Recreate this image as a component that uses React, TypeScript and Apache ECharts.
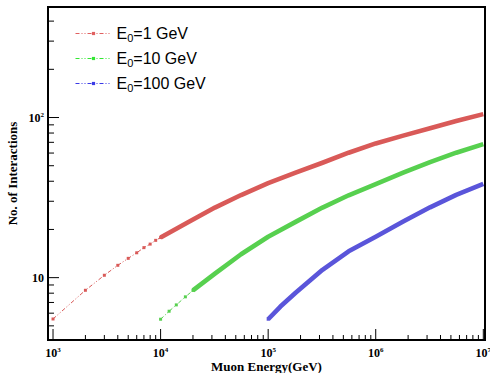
import React, { useEffect, useRef } from "react";
import * as echarts from "echarts";

// Muon energy (GeV) and number of interactions
const redSparseE = [1000, 2000, 3000, 4000, 5000, 6000, 7000, 8000, 9000, 10000];
const redSparseN = [5.52, 8.34, 10.35, 11.94, 13.2, 14.3, 15.4, 16.2, 17.1, 17.8];
const redDenseE = [10000, 18000, 32000, 56000, 100000, 180000, 320000, 560000, 1e6, 1.8e6, 3.2e6, 5.6e6, 1e7];
const redDenseN = [17.8, 22.2, 27.4, 32.8, 38.9, 45.3, 52.2, 60.3, 68.9, 77.1, 85.7, 95.1, 105];

const greenSparseE = [10000, 12000, 14000, 17000, 20000];
const greenSparseN = [5.5, 6.17, 6.76, 7.59, 8.32];
const greenDenseE = [20000, 32000, 56000, 100000, 180000, 320000, 560000, 1e6, 1.8e6, 3.2e6, 5.6e6, 1e7];
const greenDenseN = [8.32, 10.6, 14.0, 18.0, 22.3, 27.4, 32.7, 38.4, 45.2, 52.7, 60.3, 68.2];

const blueSparseE = [100000, 130000];
const blueSparseN = [5.5, 6.6];
const blueDenseE = [100000, 130000, 180000, 320000, 560000, 1e6, 1.8e6, 3.2e6, 5.6e6, 1e7];
const blueDenseN = [5.5, 6.6, 8.04, 11.2, 14.6, 18.0, 22.4, 27.5, 32.9, 38.5];

const seriesNames = ["E0=1 GeV", "E0=10 GeV", "E0=100 GeV"];

// tick positions
const xMajorTicks = [1e3, 1e4, 1e5, 1e6, 1e7];
const xMinorTicks = [
  2e3, 3e3, 4e3, 5e3, 6e3, 7e3, 8e3, 9e3,
  2e4, 3e4, 4e4, 5e4, 6e4, 7e4, 8e4, 9e4,
  2e5, 3e5, 4e5, 5e5, 6e5, 7e5, 8e5, 9e5,
  2e6, 3e6, 4e6, 5e6, 6e6, 7e6, 8e6, 9e6,
];
const yMajorTicks = [10, 100];
const yMinorTicks = [5, 6, 7, 8, 9, 20, 30, 40, 50, 60, 70, 80, 90, 200, 300, 400];

const RED = "#d95a58";
const GREEN = "#57d04f";
const BLUE = "#5a55da";
const LEG_COLORS = ["#e06060", "#33e633", "#3a3ae6"];
const SERIF = "Liberation Serif";
const DASH = [4, 2, 1, 2, 1, 2];

function zip(a: number[], b: number[]) {
  return a.map((v, i) => [v, b[i]]);
}

function powLabel(v: number) {
  const l = Math.log10(v);
  const e = Math.round(l);
  if (Math.abs(l - e) > 1e-6) return "";
  if (e === 1) return "{b|10}";
  return "{b|10}{s|" + e + "}";
}

const labelRich = {
  b: { fontFamily: SERIF, fontWeight: "bold", fontSize: 12, color: "#000", lineHeight: 13, verticalAlign: "bottom" },
  s: { fontFamily: SERIF, fontWeight: "bold", fontSize: 7, color: "#000", lineHeight: 7, verticalAlign: "top" },
};

export default function App() {
  const ref = useRef<HTMLDivElement>(null);
  useEffect(() => {
    if (!ref.current) return;
    const chart = echarts.init(ref.current, undefined, { renderer: "svg" });
    const sparse = (name: string, color: string, e: number[], n: number[]) => ({
      name,
      type: "line",
      data: zip(e, n),
      symbol: "rect",
      symbolSize: 3,
      showSymbol: true,
      itemStyle: { color },
      lineStyle: { color, width: 1, type: DASH },
      z: 3,
    });
    const dense = (name: string, color: string, e: number[], n: number[]) => ({
      name,
      type: "line",
      data: zip(e, n),
      showSymbol: false,
      symbol: "none",
      lineStyle: { color, width: 4.6, cap: "butt", join: "round" },
      itemStyle: { color },
      z: 4,
    });
    const xTickData = [
      ...xMajorTicks.map((v) => [v, 10, 1]),
      ...xMinorTicks.map((v) => [v, 10, 0]),
    ];
    const yTickData = [
      ...yMajorTicks.map((v) => [1e4, v, 1]),
      ...yMinorTicks.map((v) => [1e4, v, 0]),
    ];
    chart.setOption({
      animation: false,
      backgroundColor: "#fff",
      grid: {
        left: 48,
        right: 5,
        top: 7,
        bottom: 33,
        containLabel: false,
        outerBoundsMode: "none",
        show: true,
        borderColor: "#000",
        borderWidth: 2,
        backgroundColor: "transparent",
      },
      legend: {
        data: seriesNames.map((name, i) => ({
          name,
          itemStyle: { color: LEG_COLORS[i], borderWidth: 0 },
          lineStyle: { color: LEG_COLORS[i], width: 1, type: DASH },
        })),
        orient: "vertical",
        left: 70,
        top: 19,
        itemWidth: 36,
        itemHeight: 4,
        itemGap: 6,
        selectedMode: false,
        formatter: (name: string) => "{n|E}{sub|0}{n|" + name.slice(2) + "}",
        textStyle: {
          rich: {
            n: { fontFamily: "Liberation Sans", fontSize: 16, color: "#000", lineHeight: 18 },
            sub: { fontFamily: "Liberation Sans", fontSize: 11, color: "#000", lineHeight: 18, padding: [8, 0, 0, 0] },
          },
        },
      },
      xAxis: {
        type: "log",
        logBase: 10,
        min: 898,
        max: 1.037e7,
        name: "Muon Energy(GeV)",
        nameLocation: "middle",
        nameGap: 20,
        nameMoveOverlap: false,
        nameTextStyle: { fontFamily: SERIF, fontWeight: "bold", fontSize: 13, color: "#000" },
        axisLine: { show: true, lineStyle: { color: "#000", width: 2 } },
        axisTick: { show: false },
        splitLine: { show: false },
        minorTick: { show: false },
        axisLabel: { formatter: powLabel, rich: labelRich, margin: 6, showMinLabel: true, showMaxLabel: true, hideOverlap: false },
      },
      yAxis: {
        type: "log",
        logBase: 10,
        min: 4.08,
        max: 490,
        name: "No. of Interactions",
        nameLocation: "middle",
        nameGap: 29,
        nameMoveOverlap: false,
        nameTextStyle: { fontFamily: SERIF, fontWeight: "bold", fontSize: 13, color: "#000" },
        axisLine: { show: true, lineStyle: { color: "#000", width: 2 } },
        axisTick: { show: false },
        splitLine: { show: false },
        minorTick: { show: false },
        axisLabel: { formatter: powLabel, rich: labelRich, margin: 4, hideOverlap: false },
      },
      series: [
        sparse(seriesNames[0], RED, redSparseE, redSparseN),
        dense("red-dense", RED, redDenseE, redDenseN),
        sparse(seriesNames[1], GREEN, greenSparseE, greenSparseN),
        dense("green-dense", GREEN, greenDenseE, greenDenseN),
        sparse(seriesNames[2], BLUE, blueSparseE, blueSparseN),
        dense("blue-dense", BLUE, blueDenseE, blueDenseN),
        {
          name: "xticks",
          type: "custom",
          silent: true,
          clip: false,
          z: 10,
          data: xTickData,
          renderItem: (params: any, api: any) => {
            const x = api.coord([api.value(0), 10])[0];
            const cs = params.coordSys;
            const b = cs.y + cs.height;
            const len = api.value(2) ? 11 : 5;
            return {
              type: "line",
              shape: { x1: x, y1: b, x2: x, y2: b - len },
              style: { stroke: "#000", lineWidth: 1 },
            };
          },
        },
        {
          name: "yticks",
          type: "custom",
          silent: true,
          clip: false,
          z: 10,
          data: yTickData,
          renderItem: (params: any, api: any) => {
            const y = api.coord([1e4, api.value(1)])[1];
            const cs = params.coordSys;
            const l = cs.x;
            const len = api.value(2) ? 11 : 6;
            return {
              type: "line",
              shape: { x1: l, y1: y, x2: l + len, y2: y },
              style: { stroke: "#000", lineWidth: 1 },
            };
          },
        },
      ],
    });
    return () => chart.dispose();
  }, []);
  return (
    <div
      ref={ref}
      style={{ position: "absolute", left: 0, top: 0, width: 490, height: 373 }}
    />
  );
}
